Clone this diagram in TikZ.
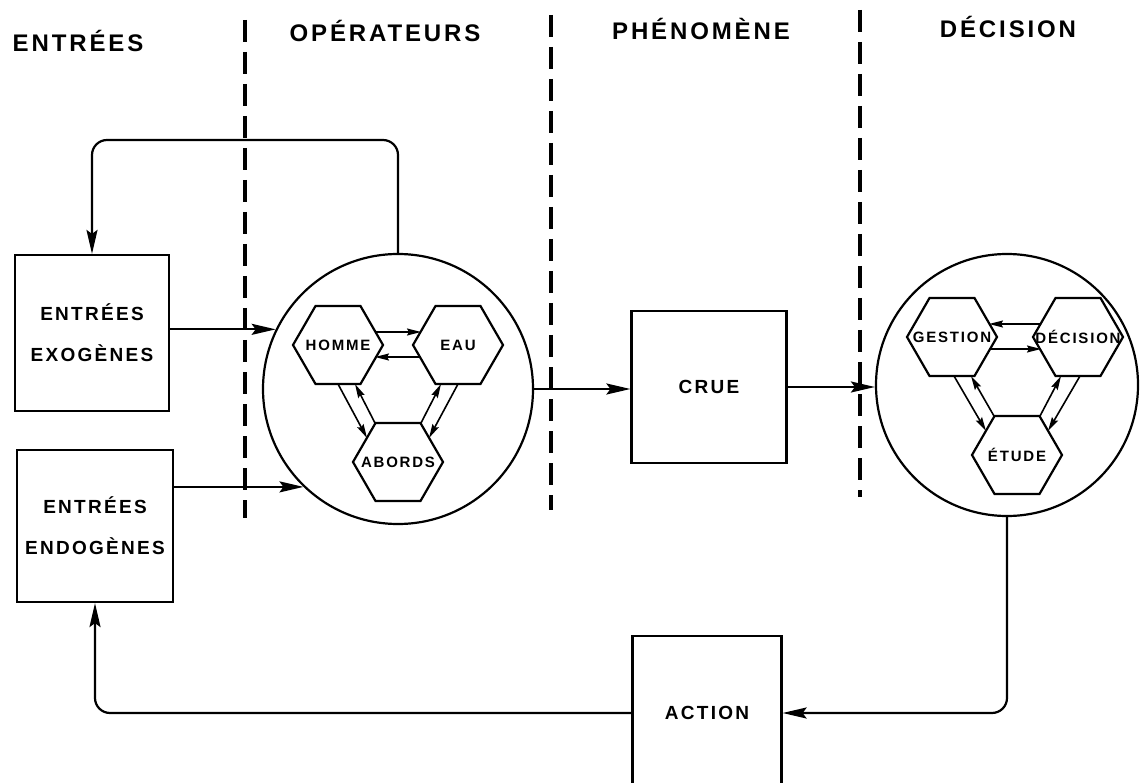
\documentclass[tikz,border=0pt]{standalone}
\usepackage{fontspec}
\setmainfont{Liberation Sans}
\newfontfamily\lettrage{Liberation Sans}[LetterSpace=12]
\usetikzlibrary{arrows.meta,calc,positioning,shapes.geometric}

\begin{document}
\begin{tikzpicture}[x=1pt, y=-1pt, line width=2.2pt,
    >={Stealth[length=24pt,width=11pt,inset=4pt]},
    titre/.style={font=\lettrage\bfseries\fontsize{24}{28}\selectfont, anchor=base},
    bloc/.style={draw, inner sep=0pt, align=center, font=\lettrage\bfseries\fontsize{19}{41}\selectfont},
    rond/.style={draw, circle, inner sep=0pt},
    hexa/.style={draw, regular polygon, regular polygon sides=6, minimum size=90pt, inner sep=0pt,
        font=\lettrage\bfseries\fontsize{15}{18}\selectfont,
        execute at begin node={\hbox to 0pt\bgroup\hss}, execute at end node={\hss\egroup}},
    fl/.style={->, line width=1.6pt, >={Stealth[length=14pt,width=7pt,inset=2pt]}},
    sep/.style={line width=4pt, dash pattern=on 22pt off 10pt}]
    \useasboundingbox (0,0) rectangle (1140,783);

    % Titres des colonnes
    \node[titre] (t-ent) at (78,52) {ENTRÉES};
    \node[titre] (t-op) at (385,42) {OPÉRATEURS};
    \node[titre] (t-phe) at (701,40) {PHÉNOMÈNE};
    \node[titre] (t-dec) at (1008,38) {DÉCISION};
    \draw[sep] (245,20) -- (245,518);
    \draw[sep] (551,15) -- (551,510);
    \draw[sep] (860,10) -- (860,497);

    % Blocs
    \node[bloc, minimum width=154pt, minimum height=156pt] (exo) at (92,333) {ENTRÉES\\EXOGÈNES};
    \node[bloc, minimum width=156pt, minimum height=152pt] (endo) at (95,526) {ENTRÉES\\ENDOGÈNES};
    \node[bloc, minimum width=155pt, minimum height=152pt] (crue) at (709,387) {CRUE};
    \node[bloc, minimum width=149pt, minimum height=154pt] (action) at (707,713) {ACTION};

    % Operateurs
    \node[rond, minimum size=270pt] (op) at (398,389) {};
    \node[hexa] (homme) at (338,345) {HOMME};
    \node[hexa] (eau) at (458,345) {EAU};
    \node[hexa] (abords) at (398,462) {ABORDS};
    \draw[fl] ($(homme)+(37,-13)$) -- ($(eau)+(-37,-13)$);
    \draw[fl] ($(eau)+(-37,12)$) -- ($(homme)+(37,12)$);
    \draw[fl] ($(homme)+(0,39)$) -- ($(abords)+(-31,-24)$);
    \draw[fl] ($(abords)+(-23,-39)$) -- ($(homme)+(17,39)$);
    \draw[fl] ($(abords)+(23,-39)$) -- ($(eau)+(-17,39)$);
    \draw[fl] ($(eau)+(0,39)$) -- ($(abords)+(31,-24)$);

    % Decision
    \node[rond, minimum size=262pt] (dec) at (1007,385) {};
    \node[hexa] (gestion) at (952,337) {GESTION};
    \node[hexa] (decision) at (1078,337) {DÉCISION};
    \node[hexa] (etude) at (1017,455) {ÉTUDE};
    \draw[fl] ($(decision)+(-37,-13)$) -- ($(gestion)+(37,-13)$);
    \draw[fl] ($(gestion)+(37,12)$) -- ($(decision)+(-37,12)$);
    \draw[fl] ($(gestion)+(2,39)$) -- ($(etude)+(-31,-24)$);
    \draw[fl] ($(etude)+(-23,-39)$) -- ($(gestion)+(19,39)$);
    \draw[fl] ($(etude)+(23,-39)$) -- ($(decision)+(-17,39)$);
    \draw[fl] ($(decision)+(2,39)$) -- ($(etude)+(31,-24)$);

    % Liaisons
    \draw[->] (exo.east |- op.154) -- (op.154);
    \draw[->] (endo.east |- op.226) -- (op.226);
    \draw[->] (op.east) -- (op.east -| crue.west);
    \draw[->] (crue.east) -- (crue.east -| dec.west);
    \coordinate (retour) at (92,140);
    \draw[->, rounded corners=15pt] (op.north) |- (retour) -- (exo.north);
    \draw[->, rounded corners=15pt] (dec.south) |- (action.east);
    \draw[->, rounded corners=15pt] (action.west) -| (endo.south);
\end{tikzpicture}
\end{document}
